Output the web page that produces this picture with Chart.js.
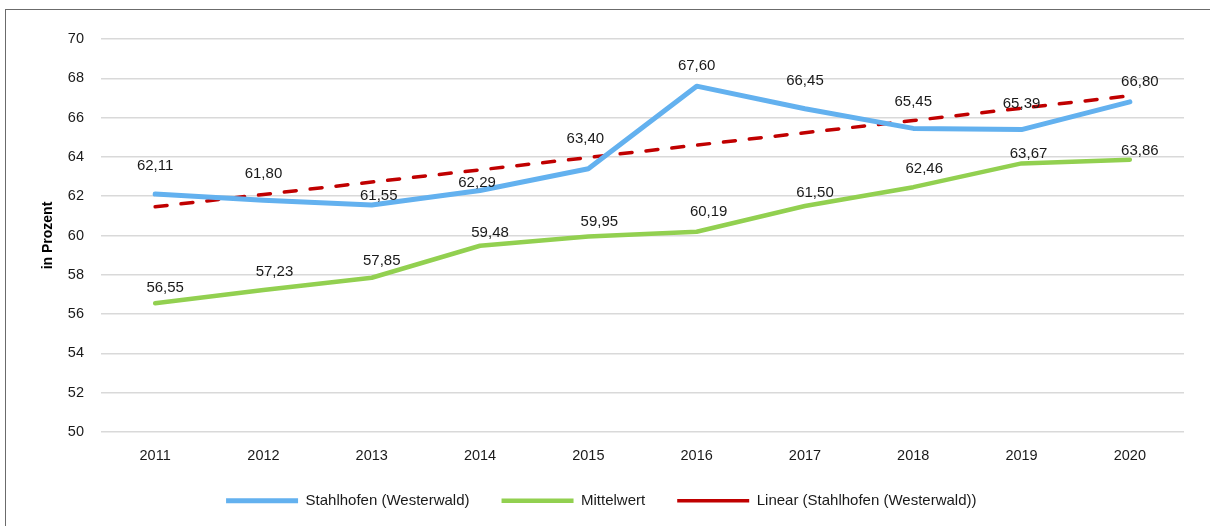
<!DOCTYPE html>
<html>
<head>
<meta charset="utf-8">
<script src="https://cdn.jsdelivr.net/npm/chart.js@4/dist/chart.umd.min.js"></script>
<style>
  html, body { margin: 0; padding: 0; background: #fff; }
  #wrap { position: relative; width: 1210px; height: 526px; overflow: hidden; }
  #frame { position: absolute; left: 5px; top: 9px; width: 1300px; height: 700px; border: 1px solid #6b6b6b; box-sizing: border-box; }
  #chart { position: absolute; left: 0; top: 0; }
</style>
</head>
<body>
<div id="wrap">
  <div id="frame"></div>
  <canvas id="chart" width="1210" height="526"></canvas>
</div>
<script>
const years = ['2011', '2012', '2013', '2014', '2015', '2016', '2017', '2018', '2019', '2020'];
const stahlhofen = [62.11, 61.80, 61.55, 62.29, 63.40, 67.60, 66.45, 65.45, 65.39, 66.80];
const mittelwert = [56.55, 57.23, 57.85, 59.48, 59.95, 60.19, 61.50, 62.46, 63.67, 63.86];
// linear trend of the Stahlhofen series
const trend = [61.46, 62.09, 62.72, 63.34, 63.97, 64.60, 65.23, 65.85, 66.48, 67.11];

const font = 'Liberation Sans, Arial, sans-serif';

// value labels above the two data series (label offsets in px)
const valueLabels = {
    id: 'valueLabels',
    afterLayout(chart) {
        // pull the legend row up
        chart.legend.top -= 18.2;
        chart.legend.bottom -= 18.2;
    },
    afterDatasetsDraw(chart, args, opts) {
        const ctx = chart.ctx;
        ctx.save();
        ctx.font = '15px ' + font;
        ctx.fillStyle = '#1a1a1a';
        ctx.textAlign = 'center';
        ctx.textBaseline = 'middle';
        opts.shifts.forEach((s, di) => {
            const meta = chart.getDatasetMeta(di);
            const values = chart.data.datasets[di].data;
            meta.data.forEach((pt, i) => {
                const txt = values[i].toFixed(2).replace('.', ',');
                ctx.fillText(txt, pt.x + s.dx[i], pt.y + s.dy[i]);
            });
        });
        ctx.restore();
    }
};

const ctx = document.getElementById('chart').getContext('2d');
const chart = new Chart(ctx, {
    type: 'line',
    data: {
        labels: years,
        datasets: [{
            label: 'Stahlhofen (Westerwald)',
            data: stahlhofen,
            borderColor: '#63b1ef',
            backgroundColor: '#63b1ef',
            borderWidth: 5,
            borderCapStyle: 'round',
            borderJoinStyle: 'round',
            pointRadius: 0,
            tension: 0
        }, {
            label: 'Mittelwert',
            data: mittelwert,
            borderColor: '#92d050',
            backgroundColor: '#92d050',
            borderWidth: 4.5,
            borderCapStyle: 'round',
            borderJoinStyle: 'round',
            pointRadius: 0,
            tension: 0
        }, {
            label: 'Linear (Stahlhofen (Westerwald))',
            data: trend,
            borderColor: '#c00000',
            backgroundColor: '#c00000',
            borderWidth: 3.5,
            borderDash: [12, 14],
            borderCapStyle: 'round',
            pointRadius: 0,
            tension: 0
        }]
    },
    options: {
        responsive: false,
        animation: false,
        layout: { padding: { left: 18.6, right: 26, top: 39, bottom: -10.4 } },
        scales: {
            x: {
                offset: true,
                grid: { display: false, drawTicks: false },
                border: { display: false },
                ticks: { color: '#1a1a1a', font: { family: font, size: 14.5 }, padding: 15 }
            },
            y: {
                min: 50,
                max: 70,
                ticks: { stepSize: 2, color: '#1a1a1a', font: { family: font, size: 14.5 }, padding: 17 },
                grid: { color: '#d9d9d9', lineWidth: 1.5, drawTicks: false },
                border: { display: false },
                title: {
                    display: true,
                    text: 'in Prozent',
                    color: '#000',
                    font: { family: font, size: 14, weight: 'bold' },
                    padding: { top: 21, bottom: 0 }
                },
                afterFit(scale) { scale.width = 82.4; }
            }
        },
        plugins: {
            legend: {
                position: 'bottom',
                labels: {
                    usePointStyle: true,
                    pointStyle: 'line',
                    pointStyleWidth: 72,
                    padding: 32,
                    color: '#1a1a1a',
                    font: { family: font, size: 15 }
                }
            },
            tooltip: { enabled: false },
            valueLabels: {
                shifts: [
                    { dx: [0, 0, 7, -3, -3, 0, 0, 0, 0, 10], dy: [-28, -26, -9, -8, -30, -20, -28, -27, -26, -20] },
                    { dx: [10, 11, 10, 10, 11, 12, 10, 11, 7, 10], dy: [-15, -18, -17, -13, -15, -20, -13, -18, -10, -9] }
                ]
            }
        }
    },
    plugins: [valueLabels]
});
</script>
</body>
</html>
